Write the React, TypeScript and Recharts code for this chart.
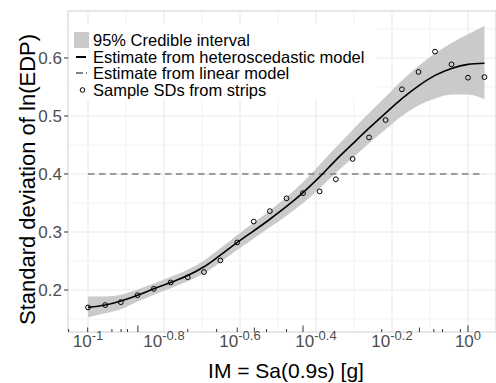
import React from "react";
import {
  ComposedChart,
  Area,
  Line,
  Scatter,
  XAxis,
  YAxis,
  CartesianGrid,
  ReferenceArea,
  ReferenceDot,
  Legend,
} from "recharts";

// IM levels of the strips, Sa(0.9s) in g
const imLevels = [
  0.1, 0.111, 0.122, 0.135, 0.149, 0.165, 0.183, 0.202, 0.223, 0.247, 0.273, 0.301, 0.333,
  0.368, 0.407, 0.449, 0.497, 0.549, 0.607, 0.67, 0.741, 0.819, 0.905, 1.0, 1.105,
];
// sample standard deviations of ln(EDP) per strip
const sampleSd = [
  0.17, 0.174, 0.179, 0.191, 0.202, 0.213, 0.222, 0.231, 0.251, 0.282, 0.318, 0.336, 0.358,
  0.367, 0.37, 0.391, 0.426, 0.463, 0.493, 0.546, 0.576, 0.611, 0.589, 0.566, 0.567,
];
// heteroscedastic model estimate and 95% credible interval
const heteroSd = [
  0.17, 0.174, 0.181, 0.191, 0.202, 0.213, 0.225, 0.24, 0.26, 0.282, 0.302, 0.322, 0.344,
  0.368, 0.395, 0.424, 0.452, 0.479, 0.505, 0.53, 0.552, 0.57, 0.582, 0.589, 0.591,
];
const ciLower = [
  0.153, 0.16, 0.167, 0.18, 0.192, 0.203, 0.215, 0.229, 0.248, 0.269, 0.289, 0.308, 0.328,
  0.35, 0.375, 0.402, 0.428, 0.453, 0.477, 0.5, 0.518, 0.53, 0.537, 0.537, 0.529,
];
const ciUpper = [
  0.189, 0.189, 0.192, 0.201, 0.211, 0.223, 0.235, 0.251, 0.272, 0.295, 0.316, 0.337, 0.36,
  0.386, 0.416, 0.446, 0.476, 0.505, 0.533, 0.561, 0.586, 0.608, 0.626, 0.641, 0.655,
];
// linear (homoscedastic) model estimate
const linearSd = 0.4;

const xTickPowers = [-1, -0.8, -0.6, -0.4, -0.2, 0];
const xMinorPowers = [-0.9, -0.7, -0.5, -0.3, -0.1];
const yTicks = [0.2, 0.3, 0.4, 0.5, 0.6];
const yMinor = [0.15, 0.25, 0.35, 0.45, 0.55, 0.65];

// log tick marks along the bottom edge: IM value and size class
const logTickIm = [
  0.0889, 0.0998, 0.1156, 0.1222, 0.127, 0.1353, 0.183, 0.218, 0.247, 0.274, 0.295, 0.333,
  0.368, 0.593, 0.745, 0.813, 0.857, 0.955, 1.0,
];
const logTickKind = [
  "s", "m", "s", "s", "s", "l", "s", "s", "m", "m", "s", "s",
  "l", "s", "m", "s", "s", "s", "l",
];

const legendLabels = [
  "95% Credible interval",
  "Estimate from heteroscedastic model",
  "Estimate from linear model",
  "Sample SDs from strips",
];

const xDomain = [0.08858, 1.185];
const yDomain = [0.1276, 0.681];

const data = imLevels.map((im, i) => ({
  im,
  sample: sampleSd[i],
  hetero: heteroSd[i],
  ci: [ciLower[i], ciUpper[i]],
  linear: linearSd,
}));

const font = "'Liberation Sans', Arial, Helvetica, sans-serif";
const tickLen: Record<string, number> = { s: 3, m: 4.5, l: 6.5 };

const XTick = (props: any) => {
  const { x, y, payload } = props;
  const p = Math.round(Math.log10(payload.value) * 10) / 10;
  return (
    <text x={x} y={y + 7} textAnchor="middle" fill="#4D4D4D" fontSize={17} fontFamily={font}>
      <tspan>10</tspan>
      <tspan dy={-7} fontSize={13}>
        {String(p)}
      </tspan>
    </text>
  );
};

const XTitle = (props: any) => {
  const vb = props.viewBox;
  return (
    <text x={vb.x + vb.width / 2 + 4} y={vb.y + 46} textAnchor="middle" fill="#000" fontSize={21} fontFamily={font}>
      IM = Sa(0.9s) [g]
    </text>
  );
};

const YTitle = (props: any) => {
  const vb = props.viewBox;
  const cx = vb.x + 35;
  const cy = vb.y + vb.height / 2 + 8;
  return (
    <text x={cx} y={cy} transform={`rotate(-90 ${cx} ${cy})`} textAnchor="middle" fill="#000" fontSize={22} fontFamily={font}>
      Standard deviation of ln(EDP)
    </text>
  );
};

const LegendBox = () => {
  const keys = [
    <rect key="k0" x={0} y={0} width={15} height={16} fill="#CACACA" />,
    <line key="k1" x1={2} y1={8} x2={12} y2={8} stroke="#000" strokeWidth={2} />,
    <line key="k2" x1={2} y1={8} x2={13} y2={8} stroke="#808080" strokeWidth={2} strokeDasharray="7 3" />,
    <circle key="k3" cx={8.5} cy={8} r={2.3} fill="none" stroke="#000" strokeWidth={1} />,
  ];
  return (
    <div style={{ background: "#fff", padding: "8px 0 2px 4px", fontFamily: font }}>
      {legendLabels.map((label, i) => (
        <div key={label} style={{ display: "flex", alignItems: "center", height: 16.5 }}>
          <svg width={16} height={16} style={{ flex: "none" }}>
            {keys[i]}
          </svg>
          <span style={{ marginLeft: 3, fontSize: 16.5, color: "#000", whiteSpace: "nowrap", lineHeight: "16px" }}>
            {label}
          </span>
        </div>
      ))}
    </div>
  );
};

export default function App() {
  return (
    <div style={{ position: "absolute", left: 0, top: 0, background: "#fff" }}>
      <ComposedChart
        width={496}
        height={383}
        data={data}
        margin={{ top: 11, right: 0, bottom: 0, left: 0 }}
        style={{ fontFamily: font }}
      >
        <CartesianGrid
          stroke="#F3F3F3"
          strokeWidth={1}
          horizontalValues={yMinor}
          verticalValues={xMinorPowers.map((p) => Math.pow(10, p))}
        />
        <CartesianGrid
          stroke="#EBEBEB"
          strokeWidth={1.2}
          horizontalValues={yTicks}
          verticalValues={xTickPowers.map((p) => Math.pow(10, p))}
        />
        <XAxis
          dataKey="im"
          type="number"
          scale="log"
          domain={xDomain}
          allowDataOverflow
          ticks={xTickPowers.map((p) => Math.pow(10, p))}
          interval={0}
          tick={<XTick />}
          tickLine={false}
          axisLine={false}
          height={51}
          label={<XTitle />}
        />
        <YAxis
          type="number"
          domain={yDomain}
          allowDataOverflow
          ticks={yTicks}
          interval={0}
          tickFormatter={(v: number) => v.toFixed(1)}
          tick={{ fill: "#4D4D4D", fontSize: 17, fontFamily: font }}
          tickLine={{ stroke: "#333" }}
          tickSize={4}
          axisLine={false}
          width={68}
          label={<YTitle />}
        />
        <Area
          dataKey="ci"
          type="monotone"
          stroke="none"
          fill="#CACACA"
          fillOpacity={1}
          isAnimationActive={false}
        />
        <Line
          dataKey="linear"
          stroke="#808080"
          strokeWidth={1.5}
          strokeDasharray="6.5 4.5"
          dot={false}
          isAnimationActive={false}
        />
        <Line
          dataKey="hetero"
          type="monotone"
          stroke="#000"
          strokeWidth={1.6}
          dot={false}
          isAnimationActive={false}
        />
        <Scatter
          dataKey="sample"
          isAnimationActive={false}
          shape={(p: any) => <circle cx={p.cx} cy={p.cy} r={2.4} fill="none" stroke="#000" strokeWidth={1} />}
        />
        {logTickIm.map((v, i) => (
          <ReferenceDot
            key={`lt${i}`}
            x={v}
            y={yDomain[0]}
            ifOverflow="visible"
            shape={(p: any) => (
              <line x1={p.cx} y1={p.cy} x2={p.cx} y2={p.cy - tickLen[logTickKind[i]]} stroke="#333" strokeWidth={1} />
            )}
          />
        ))}
        <ReferenceArea
          x1={xDomain[0]}
          x2={xDomain[1]}
          y1={yDomain[0]}
          y2={yDomain[1]}
          fill="none"
          stroke="#CFCFCF"
          strokeWidth={1}
          ifOverflow="visible"
        />
        <Legend
          layout="horizontal"
          verticalAlign="middle"
          align="center"
          content={<LegendBox />}
          wrapperStyle={{ left: 70, top: 24, width: 306, height: "auto" }}
        />
      </ComposedChart>
    </div>
  );
}
